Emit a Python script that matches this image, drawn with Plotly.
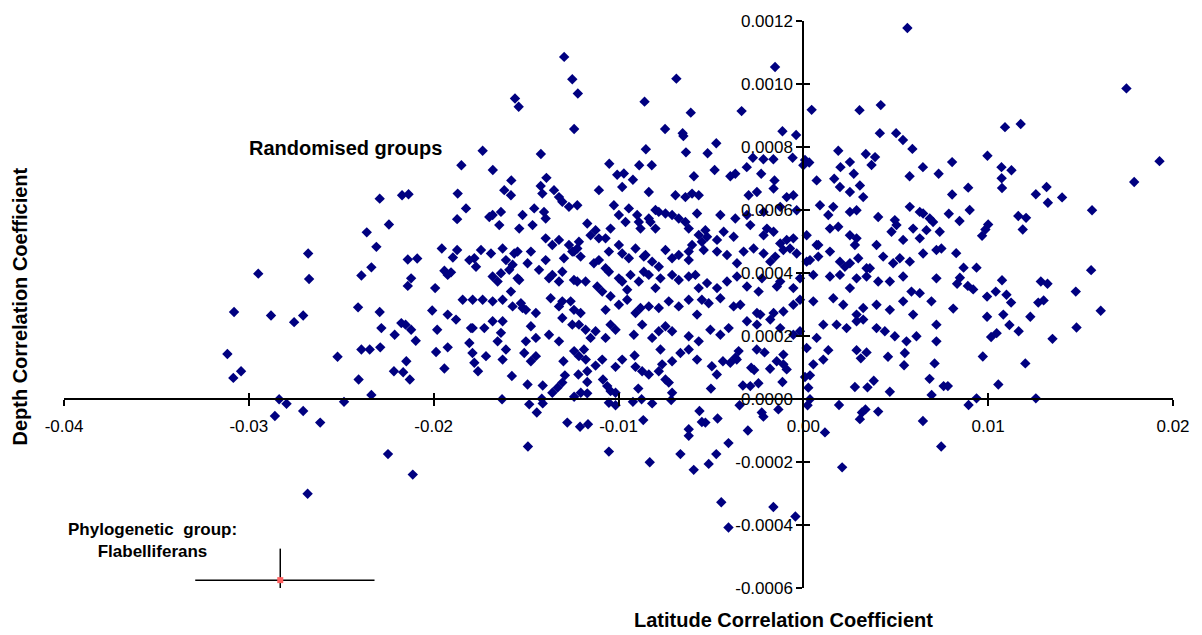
import plotly.graph_objects as go

# Latitude correlation coefficient (x) and depth correlation coefficient (y) for randomised groups
lat = [
-0.01294,-0.0125,-0.0122,-0.0156,-0.0154,-0.0124,-0.00687,-0.00859,-0.00609,-0.00748,-0.00653,-0.00649,-0.01735,-0.0142,-0.00852,-0.00635,-0.0185,-0.0168,-0.0105,-0.00888,-0.0082,-0.01007,-0.00971,-0.00922,-0.0158,-0.0139,-0.00592,
0.00563,-0.00153,-0.00334,0.00045,0.00304,0.00419,-0.00113,-0.00039,0.00414,0.00502,0.00539,0.0059,-0.00471,-0.00518,0.00189,0.00338,0.00388,-0.00273,-0.00216,-0.00162,-0.00058,0.00009,0.00032,0.0,-0.0048,-0.00395,-0.00368,-0.00306,-0.00228,0.00201,0.00252,0.00273,0.00369,0.00647,0.00732,0.00575,0.00167,0.00072,-0.00156,
0.01748,0.01176,0.01091,0.00805,0.00996,0.01072,0.01126,0.01073,0.01927,0.0179,
0.00892,0.01075,0.00805,0.01258,0.01316,0.01323,0.014,0.009,0.00787,0.00845,0.01163,0.01205,0.01187,0.01562,0.01,0.00985,0.00967,0.00827,0.00867,0.00937,0.01557,0.00847,0.00832,0.0089,0.00919,0.01075,0.01285,0.01321,0.01041,0.00994,0.01099,0.01124,0.01474,0.01271,0.013,0.00811,0.01609,0.00994,0.01082,0.01115,0.01228,0.01165,0.01478,0.01016,0.01046,0.01348,
0.00971,0.01201,0.01055,0.00937,0.00894,0.01258,0.00782,
0.00018,0.00135,0.00288,0.00342,0.00458,0.00549,0.00545,0.0071,0.00311,0.00054,0.00108,0.00009,0.00036,0.00027,0.00279,0.00347,0.00381,0.00468,0.00683,0.00759,0.00694,0.00036,0.00023,0.00193,0.00336,0.00317,0.00306,0.00405,0.00647,0.00746,0.00117,0.0021,-0.00162,-0.00444,-0.00471,-0.00512,-0.00405,-0.003,-0.00464,-0.0053,-0.00225,-0.00216,-0.00135,-0.00345,-0.005,-0.00327,-0.00287,-0.00243,-0.00113,-0.00468,-0.00495,-0.00435,-0.00395,-0.0036,-0.00282,-0.00266,-0.0018,-0.00144,-0.00108,-0.0009,-0.00108,-0.00252,-0.0021,-0.0035,-0.00368,
-0.00405,-0.00043,
-0.0163,-0.01577,-0.01492,-0.0141,-0.01483,-0.01442,-0.01415,-0.0141,-0.01358,-0.0133,-0.01304,-0.0129,-0.01298,-0.01277,-0.01208,-0.01165,-0.0149,-0.0124,-0.01204,-0.01169,-0.01217,-0.01169,-0.01169,-0.01124,-0.01088,-0.01084,-0.01061,-0.01043,-0.01016,-0.01052,-0.01016,-0.01052,-0.00893,-0.00922,-0.00875,-0.00866,-0.00818,-0.00831,-0.00715,-0.00665,-0.00593,-0.0062,-0.0062,-0.00562,-0.00549,-0.00728,-0.0071,-0.00746,-0.00575,-0.01016,-0.0098,-0.00913,-0.00908,-0.00872,-0.00836,-0.00782,-0.00764,-0.00773,-0.0071,-0.00665,-0.0062,-0.0179,-0.0176,-0.0178,-0.01717,-0.01627,-0.01609,-0.0151,-0.01474,-0.01447,-0.0124,-0.01187,-0.01177,-0.01214,
-0.03116,-0.03084,-0.03042,-0.02836,-0.02796,-0.02859,-0.02706,-0.02614,-0.02682,-0.0252,-0.02485,-0.02406,-0.02391,-0.02346,-0.02289,-0.02337,-0.02215,-0.02165,-0.02148,-0.02129,-0.02247,-0.02113,-0.01987,-0.01942,-0.01924,
-0.02949,-0.0308,-0.0288,-0.02755,-0.02706,-0.02679,-0.02674,-0.02409,-0.02292,-0.02391,-0.02337,-0.02362,-0.0231,-0.02292,-0.02242,-0.02171,-0.02136,-0.0214,-0.02089,-0.02122,-0.0214,-0.02283,-0.02211,-0.02175,-0.02152,-0.02122,-0.02097,-0.01992,-0.02008,-0.01981,-0.01956,-0.01896,-0.01873,-0.01942,-0.01906,-0.01924,-0.01924,-0.01879,-0.01873,-0.0187,
-0.01618,-0.01582,-0.01421,-0.01349,-0.01322,-0.01304,-0.01268,-0.01223,-0.01106,-0.0098,-0.00836,-0.008,-0.00692,-0.00638,-0.00602,-0.00566,
-0.01825,-0.01699,-0.01681,-0.01636,-0.01645,-0.01519,-0.01456,-0.01403,-0.01394,-0.01465,-0.01537,-0.01025,-0.00998,-0.00944,-0.00899,-0.00962,-0.0089,-0.00836,-0.00782,-0.00746,-0.0071,-0.00674,-0.00638,-0.00575,-0.01169,-0.01124,
-0.01394,-0.01358,-0.01322,-0.01268,-0.01214,-0.01223,-0.0125,-0.01151,-0.01106,-0.0107,-0.01043,-0.00998,-0.00881,-0.008,-0.00827,-0.0062,-0.00566,-0.00602,-0.00549,-0.0062,
-0.01807,-0.01771,-0.0178,-0.01744,-0.0169,-0.01609,-0.01627,-0.01564,-0.01546,-0.01492,-0.01573,-0.01474,-0.01394,-0.01295,-0.01241,-0.01205,-0.01133,-0.01106,-0.0107,-0.01052,-0.0098,-0.00944,-0.00908,-0.00863,-0.00854,-0.00818,-0.00782,-0.00746,-0.0071,-0.00674,-0.0062,-0.00584,
-0.01681,-0.01654,-0.01636,-0.01591,-0.01546,-0.01537,-0.0143,-0.01376,-0.01358,-0.01322,-0.01304,-0.01241,-0.01223,-0.01178,-0.01115,-0.01088,-0.01052,-0.00998,-0.0098,-0.00953,-0.00935,-0.0089,-0.00863,-0.00836,-0.008,-0.00773,-0.0071,-0.00674,-0.0062,-0.00566,-0.00549,
-0.01843,-0.01789,-0.01735,-0.01681,-0.01627,-0.01582,-0.01528,-0.01519,-0.01501,-0.01447,-0.01573,-0.01367,-0.01322,-0.01304,-0.01241,-0.01205,-0.01259,-0.0107,-0.01043,-0.00998,-0.00953,-0.00908,-0.00881,-0.00836,-0.00782,-0.00728,-0.00674,-0.0062,-0.00575,
-0.01798,-0.01789,-0.01726,-0.01681,-0.01636,-0.01627,-0.01474,-0.01447,-0.01376,-0.01322,-0.01304,-0.0125,-0.01214,-0.01178,-0.01151,-0.01124,-0.0107,-0.01043,-0.01016,-0.00917,-0.00872,-0.00818,-0.00782,-0.00746,-0.0071,-0.0062,-0.00566,-0.01807,-0.01654,-0.01501,-0.01412,
-0.00296,-0.00251,-0.00161,-0.0009,-0.00054,0.00198,0.00252,0.00306,0.00324,0.0063,
-0.00449,-0.00368,-0.00305,-0.00215,-0.00125,-0.00036,0.0009,0.00135,0.00162,0.00252,0.00288,0.00405,0.00504,0.00495,0.00576,0.00648,0.00702,0.00684,0.00738,
-0.0053,-0.00467,-0.00521,-0.00431,-0.00377,-0.00287,-0.00215,-0.00197,-0.00161,-0.00125,-0.0009,-0.00054,0.00018,0.00072,0.00081,0.00144,0.00189,0.00252,0.00279,0.00288,0.00396,0.00477,0.0054,0.00594,0.0063,0.00666,0.00747,0.0072,
-0.00539,-0.00467,-0.00413,-0.00359,-0.00323,-0.00269,-0.00215,-0.00179,-0.00152,-0.00108,-0.00072,-0.00036,0.00018,0.00036,0.00081,0.00144,0.00198,0.00225,0.00252,0.00297,0.00342,0.0036,0.00432,0.00486,0.00522,0.00576,0.00648,0.0072,
-0.00521,-0.00467,-0.00413,-0.00359,-0.00305,-0.00242,-0.00224,-0.00143,-0.00125,-0.00054,-0.00018,0.00054,0.00144,0.00198,0.00252,0.00288,0.00342,0.00405,0.00468,0.0054,0.00585,0.0063,0.00693,
-0.00512,-0.00449,-0.00377,-0.00341,-0.00251,-0.00233,-0.00161,-0.00108,-0.00054,-0.00018,0.00054,0.00162,0.00216,0.00288,0.00324,0.00396,0.00468,0.0054,0.00594,0.0072,
-0.00503,-0.00449,-0.00404,-0.00305,-0.00251,-0.00179,-0.00125,-0.00054,-0.00018,0.00072,0.00108,0.0018,0.00234,0.00288,0.00324,0.00396,0.00441,0.00495,0.00558,0.00612,0.0072,0.00756,
]
depth = [
0.001086,0.001015,0.00097,0.000954,0.000928,0.000857,0.001017,0.000944,0.000909,0.000857,0.000844,0.000835,0.000788,0.000778,0.000793,0.000783,0.000742,0.000727,0.000747,0.000742,0.000742,0.000712,0.000716,0.000696,0.000694,0.000702,0.000707,
0.001178,0.001054,0.000914,0.000918,0.000917,0.000933,0.00085,0.000838,0.000844,0.000844,0.000822,0.000794,0.000812,0.00078,0.000788,0.000778,0.000768,0.000766,0.000761,0.000761,0.000766,0.000759,0.000751,0.000742,0.000727,0.000707,0.000715,0.000736,0.000715,0.000736,0.000752,0.000715,0.000743,0.000736,0.000715,0.000707,0.000699,0.000694,0.000694,
0.000986,0.000873,0.000863,0.000752,0.000772,0.000736,0.000726,0.000701,0.000755,0.000689,
0.000671,0.00067,0.000649,0.00065,0.000673,0.000623,0.00064,0.0006,0.000588,0.000565,0.000581,0.000575,0.000538,0.000599,0.000554,0.000538,0.000518,0.000463,0.000417,0.000417,0.000409,0.000385,0.000366,0.000359,0.000348,0.000377,0.000373,0.000366,0.000341,0.000325,0.000331,0.000306,0.000341,0.000306,0.000313,0.000287,0.00028,0.000261,0.000268,0.000235,0.000261,0.000215,0.000227,0.000197,0.000209,0.000191,
0.000135,0.000113,0.000046,0.000002,-0.000019,0.000002,0.000041,
0.000162,0.000155,0.000155,0.000148,0.000134,0.000146,0.000107,0.000113,0.000129,0.00011,0.000125,0.00007,0.000075,0.000036,0.000038,0.000037,0.000058,0.000023,0.000064,0.000041,0.000013,-0.000001,-0.00002,-0.000019,-0.000033,-0.000043,-0.000064,-0.00004,-0.00007,-0.000151,-0.000106,-0.000217,-0.000343,-0.000328,-0.000175,-0.000206,-0.00014,-0.0001,-0.000062,-0.000075,-0.000043,-0.000056,-0.000033,-0.00002,0.000033,0.000043,0.000041,0.00005,0.000054,0.000078,0.000104,0.00012,0.000115,0.000125,0.000099,0.000092,0.000096,0.00012,0.00011,0.000094,0.000141,0.000157,0.000148,0.000152,0.000131,
-0.000408,-0.000373,
-0.000001,0.000073,0.000046,0.000043,-0.000017,-0.000043,0.000001,-0.000014,0.00002,0.000036,0.000052,0.000075,0.00012,-0.000075,-0.000088,-0.00008,-0.000151,0.000007,0.00002,0.000018,0.000078,0.000054,0.000088,0.000106,0.000125,0.000062,0.000041,0.000025,0.00002,-0.000012,-0.00002,-0.000167,0.000033,-0.000009,-0.000001,-0.000067,-0.000014,-0.000201,-0.000003,-0.000175,-0.000225,-0.000096,-0.000117,-0.000038,-0.000073,0.000052,0.00002,0.000062,0.000125,0.000102,0.000125,0.000138,0.000102,0.000088,0.000078,0.000088,0.00011,0.000157,0.00012,0.000146,0.000157,0.000146,0.000088,0.000115,0.000136,0.000125,0.000157,0.000146,0.00012,0.000136,0.000152,0.000157,0.000125,0.000136,
0.000143,0.000067,0.000088,-0.000001,-0.000015,-0.000054,-0.000038,-0.000075,-0.000301,0.000134,-0.000009,0.000062,0.000157,0.000157,0.000164,0.000013,0.000088,0.000085,0.00012,0.000062,-0.000175,-0.00024,0.000149,0.000097,0.000164,
0.000398,0.000276,0.000265,0.000244,0.000265,0.000462,0.000381,0.000291,0.000276,0.000392,0.000418,0.000529,0.000483,0.000636,0.000554,0.000647,0.00065,0.000443,0.000446,0.000383,0.000359,0.000225,0.000204,0.000241,0.000236,0.00022,0.000185,0.000352,0.000281,0.00022,0.000478,0.000449,0.000473,0.000407,0.000402,0.000394,0.000268,0.000252,0.000571,0.000652,
0.000663,0.000647,0.000676,0.000663,0.000641,0.000626,0.00061,0.000615,0.000663,0.000673,0.000657,0.0006,0.000647,0.000641,0.000652,0.000647,
0.000605,0.000578,0.000584,0.000594,0.000552,0.000584,0.000605,0.000594,0.000573,0.000552,0.000541,0.000615,0.000584,0.000605,0.000584,0.000562,0.000562,0.000573,0.000594,0.000589,0.000584,0.000573,0.000562,0.000589,0.000557,0.000536,
0.00051,0.000489,0.000505,0.000489,0.000499,0.000478,0.000468,0.00052,0.00051,0.00051,0.000541,0.000489,0.000541,0.000541,0.000562,0.000541,0.000521,0.000489,0.000499,
0.000441,0.000441,0.00042,0.000447,0.000473,0.000462,0.000441,0.000478,0.000462,0.000468,0.000431,0.000426,0.000468,0.000441,0.000447,0.000468,0.000452,0.000431,0.000441,0.000415,0.000468,0.000462,0.000447,0.000478,0.000452,0.000457,0.000436,0.00042,0.000473,0.000447,0.000457,0.000468,
0.000394,0.000389,0.000373,0.000399,0.00041,0.000383,0.000378,0.00041,0.000383,0.000394,0.000373,0.000404,0.000378,0.000373,0.000373,0.000357,0.000341,0.000404,0.000383,0.000373,0.000347,0.000394,0.000373,0.000404,0.000394,0.000352,0.000383,0.000394,0.000378,0.000389,0.000352,
0.000315,0.000315,0.000315,0.000315,0.00031,0.000315,0.000341,0.000304,0.000289,0.000283,0.000273,0.000294,0.00032,0.000294,0.00031,0.000283,0.000273,0.00031,0.000283,0.000326,0.000299,0.000315,0.000273,0.000289,0.000294,0.000289,0.00031,0.000294,0.000315,
0.000268,0.000225,0.000225,0.000225,0.000247,0.00021,0.000247,0.000231,0.000194,0.000204,0.000183,0.000257,0.000236,0.000236,0.00022,0.000194,0.000215,0.000194,0.000236,0.00022,0.000204,0.000236,0.000194,0.000215,0.000231,0.000215,0.000199,0.000183,0.000178,0.000183,0.000183,
0.000652,0.000647,0.000657,0.000668,0.000641,0.000647,0.000673,0.000657,0.000678,0.000641,
0.000594,0.000584,0.000573,0.000584,0.000594,0.00061,0.000599,0.000615,0.000584,0.00061,0.000594,0.000599,0.000578,0.000552,0.000568,0.00061,0.000589,0.000562,0.000573,
0.000531,0.000536,0.000505,0.000515,0.000531,0.000515,0.000552,0.00052,0.000541,0.000531,0.000494,0.000505,0.00051,0.00052,0.000489,0.000489,0.000541,0.000547,0.00052,0.000489,0.00051,0.000489,0.000531,0.000505,0.000541,0.00051,0.000536,0.000478,
0.000473,0.000473,0.000468,0.000457,0.000431,0.000468,0.000478,0.000462,0.000436,0.000452,0.000473,0.000478,0.000462,0.000436,0.000441,0.000452,0.000468,0.000436,0.00042,0.000431,0.000447,0.000415,0.000415,0.000452,0.000431,0.000447,0.000436,0.000462,
0.000383,0.000368,0.000352,0.000373,0.000389,0.000357,0.000341,0.000383,0.000357,0.000373,0.000352,0.000383,0.000394,0.000389,0.000394,0.000352,0.000383,0.000389,0.000373,0.000373,0.000389,0.000341,0.000336,
0.00031,0.000304,0.00032,0.000294,0.000299,0.000273,0.000268,0.000273,0.000278,0.000299,0.000315,0.00031,0.00032,0.000299,0.000268,0.000289,0.000299,0.000283,0.00031,0.000268,
0.000236,0.00022,0.000204,0.000225,0.000247,0.000236,0.000252,0.000225,0.000204,0.000215,0.000194,0.000236,0.000236,0.000225,0.000247,0.000252,0.000225,0.000215,0.000199,0.000183,0.000199,0.000183,
]

# Phylogenetic group (Flabelliferans) with its spread
phylo_lat = [-0.0283]
phylo_depth = [-0.000575]
phylo_lat_err_minus = [0.0046]
phylo_lat_err_plus = [0.0051]
phylo_depth_err = [0.0001]

x_ticks = [-0.04, -0.03, -0.02, -0.01, 0.0, 0.01, 0.02]
x_tick_text = ["-0.04", "-0.03", "-0.02", "-0.01", "0.00", "0.01", "0.02"]
y_ticks = [-0.0006, -0.0004, -0.0002, 0.0, 0.0002, 0.0004, 0.0006, 0.0008, 0.0010, 0.0012]
y_tick_text = ["-0.0006", "-0.0004", "-0.0002", "0.0000", "0.0002", "0.0004",
               "0.0006", "0.0008", "0.0010", "0.0012"]

n = min(len(lat), len(depth))
fig = go.Figure()
fig.add_trace(go.Scatter(
    x=lat[:n], y=depth[:n], mode="markers",
    marker=dict(symbol="diamond", size=8, color="#000080", line=dict(width=0)),
    showlegend=False,
))
fig.add_trace(go.Scatter(
    x=phylo_lat, y=phylo_depth, mode="markers",
    marker=dict(symbol="square", size=6, color="#ff6060", line=dict(width=0)),
    error_x=dict(type="data", symmetric=False, array=phylo_lat_err_plus,
                 arrayminus=phylo_lat_err_minus, color="black", thickness=1.5, width=0),
    error_y=dict(type="data", array=phylo_depth_err, color="black", thickness=1.5, width=0),
    showlegend=False,
))

font_txt = "Liberation Sans, Arial, sans-serif"
axis_common = dict(showgrid=False, zeroline=False, showline=True, linecolor="black",
                   linewidth=2, ticks="outside", ticklen=6, tickwidth=1.5, tickcolor="black",
                   tickfont=dict(family=font_txt, size=17, color="black"))
fig.update_layout(
    width=1202, height=635,
    margin=dict(l=64, r=27, t=18, b=47),
    plot_bgcolor="white", paper_bgcolor="white",
    xaxis=dict(range=[-0.04, 0.02], tickvals=x_ticks, ticktext=x_tick_text,
               anchor="free", position=1/3, ticklabelstandoff=6, **axis_common),
    yaxis=dict(range=[-0.0006, 0.0012], tickvals=y_ticks, ticktext=y_tick_text,
               anchor="free", position=2/3, ticklabelstandoff=0, **axis_common),
    xaxis2=dict(range=[-0.04, 0.02], tickvals=x_ticks, overlaying="x", anchor="free",
                position=1/3, showgrid=False, zeroline=False, showline=False,
                ticks="inside", ticklen=6, tickwidth=1.5, tickcolor="black", showticklabels=False),
    yaxis2=dict(range=[-0.0006, 0.0012], tickvals=y_ticks, overlaying="y", anchor="free",
                position=2/3, showgrid=False, zeroline=False, showline=False,
                ticks="inside", ticklen=6, tickwidth=1.5, tickcolor="black", showticklabels=False),
)
# empty trace so the overlay tick axes render
fig.add_trace(go.Scatter(x=[None], y=[None], xaxis="x2", yaxis="y2", showlegend=False))

fig.add_annotation(x=-0.02476, y=0.000796, xref="x", yref="y", text="<b>Randomised groups</b>",
                   showarrow=False, font=dict(family=font_txt, size=20, color="black"))
fig.add_annotation(x=-0.03522, y=-0.000449, xref="x", yref="y",
                   text="<b>Phylogenetic\u00a0 group:</b><br><b>Flabelliferans</b>",
                   showarrow=False, font=dict(family=font_txt, size=17, color="black"))
fig.add_annotation(x=0.649, y=0, xref="paper", yref="paper", yshift=-32, yanchor="middle",
                   xanchor="center", text="<b>Latitude Correlation Coefficient</b>", showarrow=False,
                   font=dict(family=font_txt, size=20, color="black"))
fig.add_annotation(x=-0.0396, y=0.4965, xref="paper", yref="paper", textangle=-90,
                   xanchor="center", yanchor="middle",
                   text="<b>Depth Correlation Coefficient</b>", showarrow=False,
                   font=dict(family=font_txt, size=20, color="black"))

fig.write_html("out.html")
